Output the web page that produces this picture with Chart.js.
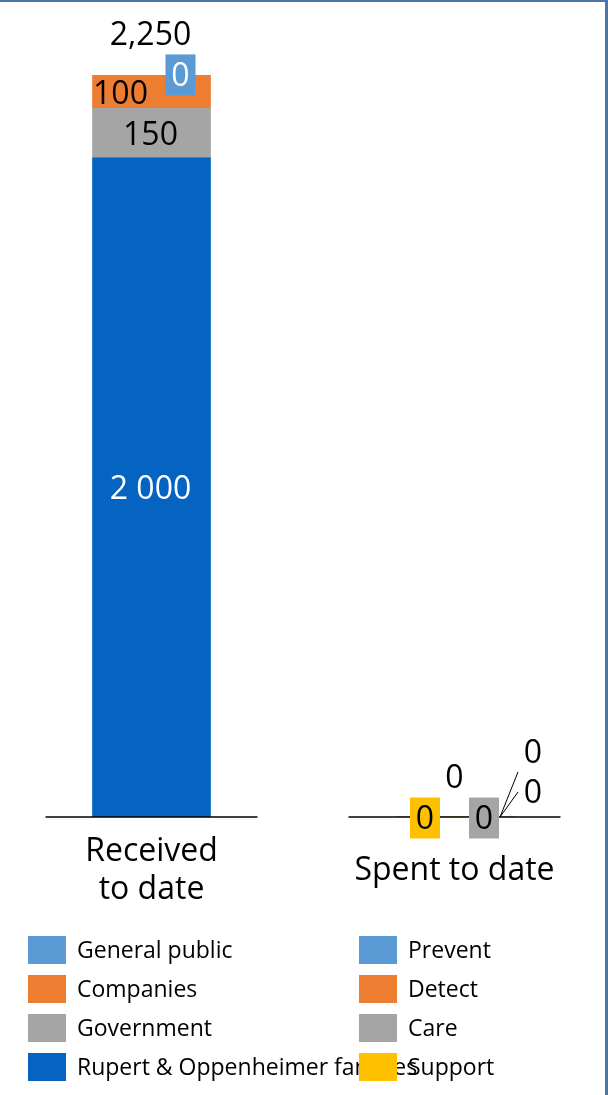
<!DOCTYPE html>
<html><head><meta charset="utf-8">
<script src="https://cdn.jsdelivr.net/npm/chart.js@4/dist/chart.umd.min.js"></script>
<style>html,body{margin:0;padding:0;background:#fff;overflow:hidden}canvas{display:block}</style>
</head><body>
<canvas id="c" width="608" height="1095"></canvas>
<script>
const categories = ["Received to date", "Spent to date"];
const categoryLines = [["Received", "to date"], ["Spent to date"]];
const receivedSeries = ["Rupert & Oppenheimer families", "Government", "Companies", "General public"];
const receivedValues = [2000, 150, 100, 0];
const receivedLabels = ["2 000", "150", "100", "0"];
const receivedTotalLabel = "2,250";
const spentSeries = ["Support", "Care", "Detect", "Prevent"];
const spentValues = [0, 0, 0, 0];
const spentLabels = ["0", "0", "0", "0"];
const spentTotalLabel = "0";
const receivedColors = ["#0563C1", "#A5A5A5", "#ED7D31", "#5B9BD5"];
const spentColors = ["#FFC000", "#A5A5A5", "#ED7D31", "#5B9BD5"];

const FONT = "'Open Sans', 'Noto Sans', sans-serif";
const datasets = [];
receivedSeries.forEach((s, i) => datasets.push({
  label: s, group: 0, idx: i, text: receivedLabels[i],
  data: [receivedValues[i], null], backgroundColor: receivedColors[i], stack: "s"
}));
spentSeries.forEach((s, i) => datasets.push({
  label: s, group: 1, idx: i, text: spentLabels[i],
  data: [null, spentValues[i]], backgroundColor: spentColors[i], stack: "s"
}));

function drawText(ctx, txt, cx, cy, size, color) {
  ctx.font = size + "px " + FONT;
  ctx.fillStyle = color;
  ctx.textAlign = "center";
  ctx.textBaseline = "alphabetic";
  ctx.fillText(txt, cx, cy + size * 0.357);
}

const overlay = {
  id: "overlay",
  afterDraw(chart) {
    const ctx = chart.ctx;
    const xs = chart.scales.x, ys = chart.scales.y;
    const y0 = ys.getPixelForValue(0);
    ctx.save();
    // axis baselines per category
    ctx.strokeStyle = "#000"; ctx.lineWidth = 1.5;
    categories.forEach((c, i) => {
      const cx = xs.getPixelForValue(i);
      ctx.beginPath(); ctx.moveTo(cx - 106, y0); ctx.lineTo(cx + 106, y0); ctx.stroke();
    });
    // category labels
    categories.forEach((c, i) => {
      const cx = xs.getPixelForValue(i);
      const lines = categoryLines[i];
      const lh = 38;
      const mid = y0 + 52;
      lines.forEach((ln, k) => {
        drawText(ctx, ln, cx, mid + (k - (lines.length - 1) / 2) * lh, 32, "#000");
      });
    });
    // data labels
    const LS = 32;
    chart.data.datasets.forEach((ds, di) => {
      const meta = chart.getDatasetMeta(di);
      const el = meta.data[ds.group];
      const x = el.x, top = el.y, base = el.base;
      if (ds.group === 0) {
        if (ds.idx === 0) drawText(ctx, ds.text, x - 1, (top + base) / 2, LS, "#fff");
        else if (ds.idx === 1) drawText(ctx, ds.text, x - 1, (top + base) / 2, LS, "#000");
        else if (ds.idx === 2) drawText(ctx, ds.text, x - 31, (top + base) / 2 + 1, LS, "#000");
        else {
          ctx.fillStyle = ds.backgroundColor; ctx.fillRect(x + 14, top - 21, 30, 41);
          drawText(ctx, ds.text, x + 29, top - 1, LS, "#fff");
          drawText(ctx, receivedTotalLabel, x - 1, top - 42, LS, "#000");
        }
      } else {
        if (ds.idx === 0) {
          ctx.fillStyle = ds.backgroundColor; ctx.fillRect(x - 44.5, top - 19.5, 30, 41);
          drawText(ctx, ds.text, x - 29.5, top + 1, LS, "#000");
        } else if (ds.idx === 1) {
          ctx.fillStyle = ds.backgroundColor; ctx.fillRect(x + 14.5, top - 19.5, 30, 41);
          drawText(ctx, ds.text, x + 29.5, top + 1, LS, "#000");
        } else {
          const dy = ds.idx === 2 ? -25 : -45;
          const ly = ds.idx === 2 ? -25 : -65;
          ctx.strokeStyle = "#000"; ctx.lineWidth = 1;
          ctx.beginPath(); ctx.moveTo(x + 45.5, top); ctx.lineTo(x + 63.5, top + dy); ctx.stroke();
          drawText(ctx, ds.text, x + 78.5, top + ly, LS, "#000");
          if (ds.idx === 3) drawText(ctx, spentTotalLabel, x, top - 40, LS, "#000");
        }
      }
    });
    // legend (two columns)
    const cols = [
      receivedSeries.map((s, i) => i).reverse().map(i => ({ t: receivedSeries[i], c: receivedColors[i] })),
      spentSeries.map((s, i) => i).reverse().map(i => ({ t: spentSeries[i], c: spentColors[i] }))
    ];
    const colX = [28, 359];
    ctx.font = "23px " + FONT;
    ctx.textAlign = "left"; ctx.textBaseline = "alphabetic";
    cols.forEach((col, ci) => {
      col.forEach((it, r) => {
        const ty = 936 + r * 39;
        ctx.fillStyle = it.c; ctx.fillRect(colX[ci], ty, 38, 28);
        ctx.fillStyle = "#000"; ctx.fillText(it.t, colX[ci] + 49, ty + 22);
      });
    });
    // frame
    ctx.fillStyle = "#4A76A8";
    ctx.fillRect(0, 0, 608, 2);
    ctx.fillRect(605, 0, 3, 1095);
    ctx.restore();
  }
};

new Chart(document.getElementById("c"), {
  type: "bar",
  data: { labels: categories, datasets },
  options: {
    responsive: false, animation: false, devicePixelRatio: 1,
    layout: { padding: { top: 26, bottom: 278, left: 0, right: 2 } },
    datasets: { bar: { barThickness: 118 } },
    scales: {
      x: { display: false, stacked: true },
      y: { display: false, stacked: true, min: 0, max: 2400 }
    },
    plugins: { legend: { display: false }, tooltip: { enabled: false } }
  },
  plugins: [overlay]
});
</script>
</body></html>
